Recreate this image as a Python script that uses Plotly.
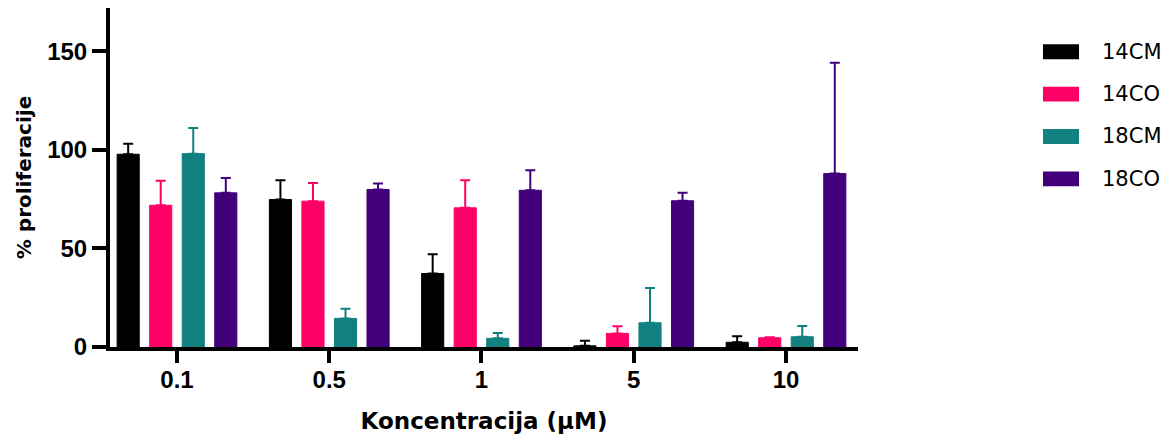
import plotly.graph_objects as go

categories = ["0.1", "0.5", "1", "5", "10"]
series_names = ["14CM", "14CO", "18CM", "18CO"]
series_colors = ["#000000", "#FF0066", "#108080", "#42007A"]

mean_14CM = [97.8, 74.8, 37.3, 0.6, 2.4]
mean_14CO = [71.9, 74.0, 70.6, 6.9, 4.7]
mean_18CM = [98.1, 14.5, 4.4, 12.3, 5.2]
mean_18CO = [78.2, 79.9, 79.5, 74.2, 88.0]

sd_14CM = [5.3, 9.8, 9.8, 2.6, 3.0]
sd_14CO = [12.4, 9.2, 14.0, 3.6, 0.3]
sd_18CM = [13.0, 4.9, 2.7, 17.6, 5.4]
sd_18CO = [7.6, 3.0, 10.2, 4.0, 56.2]

means = [mean_14CM, mean_14CO, mean_18CM, mean_18CO]
sds = [sd_14CM, sd_14CO, sd_18CM, sd_18CO]

fig = go.Figure()
for name, color, m, s in zip(series_names, series_colors, means, sds):
    fig.add_trace(go.Bar(
        x=categories, y=m, name=name,
        marker=dict(color=color, line=dict(color=color, width=1)),
        error_y=dict(type="data", array=s, arrayminus=[0] * len(s), symmetric=False,
                     color=color, thickness=2, width=5),
        showlegend=False,
    ))

# legend drawn manually (wide rectangular swatches like the reference)
leg_y0 = 0.871
leg_step = 0.125
for i, (name, color) in enumerate(zip(series_names, series_colors)):
    yc = leg_y0 - i * leg_step
    fig.add_shape(type="rect", xref="paper", yref="paper",
                  x0=1.2473, x1=1.2955, y0=yc - 0.022, y1=yc + 0.022,
                  fillcolor=color, line=dict(width=0))
    fig.add_annotation(xref="paper", yref="paper", x=1.3235, y=yc,
                       text=name, showarrow=False, xanchor="left", yanchor="middle",
                       font=dict(family="DejaVu Sans", size=21, color="black"))

fig.update_layout(
    width=1156, height=426,
    margin=dict(l=102, r=306, t=0, b=87),
    paper_bgcolor="white", plot_bgcolor="white",
    barmode="group", bargap=0.145, bargroupgap=0.32,
    showlegend=False,
)
fig.update_xaxes(
    type="category", range=[-0.44, 4.473],
    showline=True, linewidth=4, linecolor="black",
    ticks="outside", ticklen=12, tickwidth=4, tickcolor="black",
    ticklabelstandoff=-4,
    tickfont=dict(family="Liberation Sans", size=24, color="black", weight="bold"),
    showgrid=False, zeroline=False,
    title=dict(text="Koncentracija (μM)", standoff=25,
               font=dict(family="DejaVu Sans", size=23, color="black", weight="bold")),
)
fig.update_yaxes(
    range=[0, 172], tickvals=[0, 50, 100, 150],
    showline=True, linewidth=4, linecolor="black",
    ticks="outside", ticklen=14, tickwidth=4, tickcolor="black",
    tickfont=dict(family="Liberation Sans", size=24, color="black", weight="bold"),
    showgrid=False, zeroline=False,
    title=dict(text="% proliferacije", standoff=11,
               font=dict(family="DejaVu Sans", size=20, color="black", weight="bold")),
)

fig.write_html("out.html")
